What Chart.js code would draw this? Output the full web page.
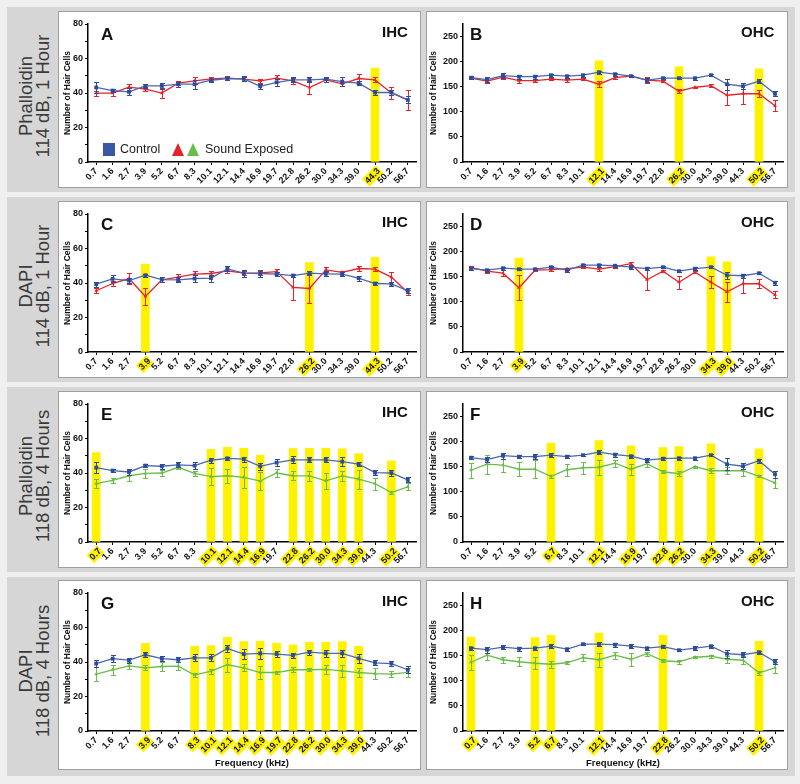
<!DOCTYPE html>
<html>
<head>
<meta charset="utf-8">
<script src="https://cdn.jsdelivr.net/npm/chart.js@4.4.1/dist/chart.umd.min.js"></script>
<style>
  html, body { margin: 0; padding: 0; background: #efefef; }
  #fig { position: relative; width: 800px; height: 784px; font-family: 'Liberation Sans', Arial, sans-serif; overflow: hidden; }
  .band { position: absolute; left: 7px; width: 788px; background: #d6d6d6; }
  .box { position: absolute; box-sizing: border-box; border: 1px solid #a0a0a0; background: #fff; }
  .box canvas { position: absolute; left: 0; top: 0; }
  .rowlab { position: absolute; left: 34px; transform: translate(-50%, -50%) rotate(-90deg);
            font-size: 18.5px; line-height: 17px; color: #3a3a3a; text-align: center; white-space: nowrap; }
  .letter { position: absolute; font-weight: bold; font-size: 17px; line-height: 17px; color: #111; }
  .cell { position: absolute; font-weight: bold; font-size: 15px; line-height: 15px; color: #111; }
  .leg { position: absolute; font-size: 12.5px; line-height: 13px; color: #222; }
  .sq { position: absolute; width: 12px; height: 13px; background: #3a56a6; }
  .tri { position: absolute; width: 0; height: 0; border-left: 6px solid transparent; border-right: 6px solid transparent; border-bottom: 13px solid; }
</style>
</head>
<body>
<div id="fig"></div>
<script>
const _ = null;

const freqLabels = ['0.7', '1.6', '2.7', '3.9', '5.2', '6.7', '8.3', '10.1', '12.1', '14.4',
  '16.9', '19.7', '22.8', '26.2', '30.0', '34.3', '39.0', '44.3', '50.2', '56.7'];

// A: Phalloidin 114 dB 1 h, IHC
const ctrlA = [43.2, 41.4, 40.7, 44.1, 44.1, 45.1, 45.1, 47.4, 48.4, 48.2, 43.9, 46.2, 47.6, 47.6, 48, 46.6, 45.7, 40.3, 40.3, 36];
const ctrlAErr = [3, 1, 2, 1, 1.5, 1.5, 2.5, 1, 1, 1.5, 1.5, 2, 1.5, 1.5, 1.5, 2.5, 1, 1.2, 1.5, 2];
const expA = [39.9, 39.9, 43.4, 42.2, 39.9, 45.7, 47, 48.2, 48.6, 48, 47, 48.6, 47, 43.2, 47.6, 45.3, 48.4, 47.6, 40, 36];
const expAErr = [1.5, 1.5, 2, 1, 3, 1, 2, 1, 1, 1, 1, 2, 1.5, 4, 1, 1, 2.5, 1.5, 3.5, 6];
const markA = [_, _, _, _, _, _, _, _, _, _, _, _, _, _, _, _, _, 54.5, _, _];

// B: Phalloidin 114 dB 1 h, OHC
const ctrlB = [168, 164, 172, 170, 170, 173, 171, 173, 179, 175, 171, 163, 167, 167, 167, 173, 155, 151, 161, 136];
const ctrlBErr = [3, 5, 5, 4, 4, 3, 3, 3, 3, 3, 2, 4, 2, 2, 3, 2, 11, 6, 4, 5];
const expB = [167, 161, 169, 162, 162, 165, 163, 165, 155, 168, 171, 163, 161, 141, 149, 152, 133, 136, 136, 112];
const expBErr = [2, 3, 3, 4, 3, 2, 3, 2, 6, 3, 2, 6, 2, 4, 1, 3, 20, 21, 7, 11];
const markB = [_, _, _, _, _, _, _, _, 201.5, _, _, _, _, 189.5, _, _, _, _, 185.5, _];

// C: DAPI 114 dB 1 h, IHC
const ctrlC = [39.3, 42.4, 41.4, 44.5, 42, 41.8, 42.6, 42.8, 48.2, 45.7, 45.5, 45.1, 44.3, 45.7, 45.3, 45.1, 42.8, 39.7, 39.5, 35.5];
const ctrlCErr = [1.5, 2, 1.5, 1, 1.5, 1.5, 2, 2, 1.5, 2, 2, 1, 1, 1, 1.5, 1, 1.5, 1, 1, 1.5];
const expC = [35.5, 39.7, 42.6, 32.2, 41.8, 43.4, 45.1, 45.5, 47, 45.7, 45.9, 46.6, 37.4, 36.8, 47.6, 46.2, 48.4, 48, 43.4, 34.5];
const expCErr = [1.5, 1.5, 3, 5, 1.5, 2, 2, 1.5, 1, 1, 1, 1.5, 7, 8.5, 1.5, 1, 1.5, 1, 3, 1.5];
const markC = [_, _, _, 51, _, _, _, _, _, _, _, _, _, 51.8, _, _, _, 54.9, _, _];

// D: DAPI 114 dB 1 h, OHC
const ctrlD = [166, 163, 167, 165, 165, 169, 163, 173, 173, 172, 169, 166, 169, 161, 166, 169, 153, 152, 157, 138];
const ctrlDErr = [3, 3, 3, 2, 2, 2, 3, 2, 3, 2, 3, 3, 2, 2, 3, 2, 7, 4, 2, 4];
const expD = [168, 161, 157, 128, 163, 164, 166, 169, 165, 170, 176, 144, 161, 139, 159, 139, 120, 136, 136, 114];
const expDErr = [4, 3, 6, 25, 2, 2, 2, 2, 4, 3, 3, 20, 2, 13, 2, 12, 20, 19, 9, 7];
const markD = [_, _, _, 187, _, _, _, _, _, _, _, _, _, _, _, 189.5, 179.5, _, _, _];

// E: Phalloidin 118 dB 4 h, IHC
const ctrlE = [43.1, 41.4, 40.6, 44.3, 43.9, 44.7, 44.3, 47.4, 48.5, 48, 43.9, 46, 47.6, 47.6, 47.6, 46.6, 45.2, 40.2, 40, 36];
const ctrlEErr = [3, 1, 2, 1, 1.5, 1.5, 2, 1.5, 1, 1.5, 2, 2, 2, 1.5, 1.5, 2.5, 1, 1.5, 1.5, 1.5];
const expE = [33.8, 35.7, 38.4, 39.8, 40, 43.3, 39.8, 37.9, 38.4, 37.5, 35.3, 40, 38.4, 38.3, 35.5, 38.3, 36.5, 33.8, 28.7, 32];
const expEErr = [2.5, 1.5, 3, 2.5, 1.5, 1, 1.5, 5, 4, 6, 5, 2.5, 2.5, 3, 4.5, 3, 5.5, 3.5, 1, 2];
const markE = [51.8, _, _, _, _, _, _, 53.7, 54.9, 54.3, 50.4, _, 54.1, 54.3, 54.3, 54, 51.2, _, 47, _];

// F: Phalloidin 118 dB 4 h, OHC
const ctrlF = [168, 164, 172, 170, 170, 173, 170, 173, 179, 174, 171, 163, 166, 167, 167, 173, 155, 151, 162, 135];
const ctrlFErr = [3, 5, 6, 3, 5, 4, 3, 2, 4, 4, 3, 4, 3, 3, 3, 2, 12, 6, 4, 7];
const expF = [143, 155, 153, 145, 145, 131, 144, 148, 149, 157, 145, 156, 140, 136, 150, 142, 142, 142, 131, 118];
const expFErr = [15, 19, 13, 14, 18, 3, 12, 12, 15, 7, 11, 7, 3, 5, 2, 5, 7, 11, 2, 10];
const markF = [_, _, _, _, _, 197, _, _, 202, _, 191.5, _, 188, 190, _, 195.5, _, _, 185.5, _];

// G: DAPI 118 dB 4 h, IHC
const ctrlG = [39.1, 41.9, 41.1, 44.2, 41.9, 41.3, 42.4, 42.4, 47.9, 44.6, 45, 44.6, 43.8, 45.7, 45, 45, 42.1, 39.5, 39.1, 35.5];
const ctrlGErr = [2, 2, 1.5, 1.5, 1.5, 1.5, 2, 2, 2, 3, 3, 1.5, 1.5, 1.5, 2, 2, 2.5, 1.5, 1.5, 2];
const expG = [33, 35.5, 37.8, 36.6, 37.4, 37.6, 32.4, 34.7, 38.4, 36.6, 33.9, 33.9, 35.5, 35.5, 35.7, 34.9, 33.9, 33.3, 33, 34];
const expGErr = [4, 3, 2, 1.5, 2.5, 2.5, 1, 1.5, 4, 2, 4, 1, 1.5, 1, 2.5, 3.5, 2.5, 3, 1.5, 2.5];
const markG = [_, _, _, 50.8, _, _, 49.1, 49.5, 54.3, 51.8, 52, 50.8, 50, 51.4, 51.4, 51.8, 49.1, _, _, _];

// H: DAPI 118 dB 4 h, OHC
const ctrlH = [165, 162, 167, 164, 165, 169, 163, 173, 173, 172, 169, 165, 168, 161, 165, 169, 154, 152, 157, 138];
const ctrlHErr = [3, 6, 4, 4, 3, 4, 3, 2, 4, 4, 4, 3, 3, 2, 4, 3, 8, 5, 3, 5];
const expH = [137, 151, 142, 138, 135, 133, 136, 146, 142, 151, 143, 154, 140, 138, 147, 149, 143, 141, 116, 126];
const expHErr = [15, 10, 6, 9, 12, 7, 3, 7, 14, 7, 13, 4, 3, 4, 2, 3, 7, 8, 4, 11];
const markH = [187, _, _, _, 186, 190.5, _, _, 195, _, _, _, 190.5, _, _, _, _, _, 178.5, _];

const rowNames = [['Phalloidin', '114 dB, 1 Hour'], ['DAPI', '114 dB, 1 Hour'],
                  ['Phalloidin', '118 dB, 4 Hours'], ['DAPI', '118 dB, 4 Hours']];

const BLUE_LINE = '#4a67b2', BLUE_MARK = '#2c4b9c';
const RED = '#e5232a', GREEN = '#6abd4b', YELLOW = '#fff200';

const bandTop = [7, 197, 387, 577], bandH = [185, 185, 185, 199];
const boxTop = [11, 201, 391, 580], boxH = [177, 177, 177, 190];
const boxLeft = [58, 426], boxW = [363, 362];

const panels = [
  { id: 'A', row: 0, side: 0, kind: 'IHC', ctrl: ctrlA, ctrlErr: ctrlAErr, exp: expA, expErr: expAErr, mark: markA, color: RED },
  { id: 'B', row: 0, side: 1, kind: 'OHC', ctrl: ctrlB, ctrlErr: ctrlBErr, exp: expB, expErr: expBErr, mark: markB, color: RED },
  { id: 'C', row: 1, side: 0, kind: 'IHC', ctrl: ctrlC, ctrlErr: ctrlCErr, exp: expC, expErr: expCErr, mark: markC, color: RED },
  { id: 'D', row: 1, side: 1, kind: 'OHC', ctrl: ctrlD, ctrlErr: ctrlDErr, exp: expD, expErr: expDErr, mark: markD, color: RED },
  { id: 'E', row: 2, side: 0, kind: 'IHC', ctrl: ctrlE, ctrlErr: ctrlEErr, exp: expE, expErr: expEErr, mark: markE, color: GREEN },
  { id: 'F', row: 2, side: 1, kind: 'OHC', ctrl: ctrlF, ctrlErr: ctrlFErr, exp: expF, expErr: expFErr, mark: markF, color: GREEN },
  { id: 'G', row: 3, side: 0, kind: 'IHC', ctrl: ctrlG, ctrlErr: ctrlGErr, exp: expG, expErr: expGErr, mark: markG, color: GREEN },
  { id: 'H', row: 3, side: 1, kind: 'OHC', ctrl: ctrlH, ctrlErr: ctrlHErr, exp: expH, expErr: expHErr, mark: markH, color: GREEN }
];

// error bars drawn from each dataset's errors array, through the y scale
const errorBars = {
  id: 'errorBars',
  afterDatasetDraw(chart, args) {
    const ds = chart.data.datasets[args.index];
    if (!ds.errors) return;
    const y = chart.scales.y, c = chart.ctx;
    c.save();
    c.strokeStyle = ds.errColor || ds.borderColor;
    c.lineWidth = 1;
    args.meta.data.forEach(function(pt, i) {
      const v = ds.data[i], e = ds.errors[i];
      if (v == null || !e) return;
      const t = Math.round(y.getPixelForValue(v + e)) + 0.5;
      const b = Math.round(y.getPixelForValue(v - e)) + 0.5;
      const x = Math.round(pt.x) + 0.5;
      c.beginPath();
      c.moveTo(x, t); c.lineTo(x, b);
      c.moveTo(x - 2.5, t); c.lineTo(x + 2.5, t);
      c.moveTo(x - 2.5, b); c.lineTo(x + 2.5, b);
      c.stroke();
    });
    c.restore();
  }
};

const fig = document.getElementById('fig');

function addDiv(cls, css, text) {
  const d = document.createElement('div');
  d.className = cls;
  d.style.cssText = css;
  if (text != null) d.textContent = text;
  fig.appendChild(d);
  return d;
}

rowNames.forEach(function(names, r) {
  addDiv('band', 'top:' + bandTop[r] + 'px;height:' + bandH[r] + 'px;');
  const lab = addDiv('rowlab', 'top:' + (boxTop[r] + boxH[r] / 2 - 4) + 'px;');
  lab.innerHTML = names[0] + '<br>' + names[1];
});

const tickFont = { family: "'Liberation Sans', Arial, sans-serif", size: 9, weight: 'bold' };

panels.forEach(function(p) {
  const ihc = p.kind === 'IHC';
  const last = p.row === 3;
  const w = boxW[p.side] - 2, h = boxH[p.row] - 2;
  const box = addDiv('box', 'left:' + boxLeft[p.side] + 'px;top:' + boxTop[p.row] + 'px;width:' +
    boxW[p.side] + 'px;height:' + boxH[p.row] + 'px;');
  const canvas = document.createElement('canvas');
  canvas.width = w; canvas.height = h;
  box.appendChild(canvas);

  new Chart(canvas, {
    type: 'line',
    data: {
      labels: freqLabels,
      datasets: [
        { type: 'line', data: p.ctrl, errors: p.ctrlErr, errColor: BLUE_MARK, borderColor: BLUE_LINE,
          backgroundColor: BLUE_MARK, pointStyle: 'rect', pointRadius: 2.7, pointBorderWidth: 0,
          borderWidth: 1.3, tension: 0, order: 0 },
        { type: 'line', data: p.exp, errors: p.expErr, borderColor: p.color, backgroundColor: p.color,
          pointStyle: 'triangle', pointRadius: 2.2, pointBorderWidth: 0, borderWidth: 1.3, tension: 0, order: 1 },
        { type: 'bar', data: p.mark, backgroundColor: YELLOW, barThickness: 8, order: 2 }
      ]
    },
    options: {
      responsive: false,
      animation: false,
      events: [],
      layout: { padding: { top: 12, right: 4, bottom: 0, left: 0 } },
      plugins: { legend: { display: false }, tooltip: { enabled: false } },
      scales: {
        x: {
          type: 'category',
          offset: true,
          grid: { offset: false, drawOnChartArea: false, tickLength: 3, color: '#000' },
          border: { color: '#000', width: 1.5 },
          ticks: {
            autoSkip: false, minRotation: 45, maxRotation: 45, padding: 1,
            color: '#111', font: tickFont,
            showLabelBackdrop: function(ctx) { return p.mark[ctx.index] != null; },
            backdropColor: YELLOW,
            backdropPadding: { top: 0, bottom: 0, left: 1, right: 1 }
          },
          title: { display: last, text: 'Frequency (kHz)', color: '#111',
                   font: { family: tickFont.family, size: 9.5, weight: 'bold' }, padding: { top: 0, bottom: 0 } },
          afterFit: function(s) { s.height = last ? 38 : 25; }
        },
        y: {
          min: 0,
          max: ihc ? 80 : 275,
          grid: { drawOnChartArea: false, tickLength: 3, color: '#000' },
          border: { color: '#000', width: 1.5 },
          ticks: {
            stepSize: ihc ? 10 : 25, padding: 2, color: '#111', font: tickFont,
            callback: function(v) {
              if (ihc) return v % 20 === 0 ? String(v) : '';
              return (v % 50 === 0 && v <= 250) ? String(v) : '';
            }
          },
          title: { display: true, text: 'Number of Hair Cells', color: '#111',
                   font: { family: tickFont.family, size: 8.5, weight: 'bold' },
                   padding: { top: p.side === 0 ? 4 : 2, bottom: 0 } },
          afterFit: function(s) { s.width = p.side === 0 ? 29 : 36; }
        }
      }
    },
    plugins: [errorBars]
  });

  const chartTop = boxTop[p.row] + 13;
  addDiv('letter', 'left:' + (p.side === 0 ? 101 : 470) + 'px;top:' + (chartTop + 2) + 'px;', p.id);
  addDiv('cell', 'left:' + (p.side === 0 ? 382 : 741) + 'px;top:' + chartTop + 'px;', p.kind);
});

// legend in panel A
addDiv('sq', 'left:103px;top:143px;');
addDiv('leg', 'left:120px;top:143px;', 'Control');
addDiv('tri', 'left:172px;top:143px;border-bottom-color:' + RED + ';');
addDiv('tri', 'left:187px;top:143px;border-bottom-color:' + GREEN + ';');
addDiv('leg', 'left:205px;top:143px;', 'Sound Exposed');
</script>
</body>
</html>
